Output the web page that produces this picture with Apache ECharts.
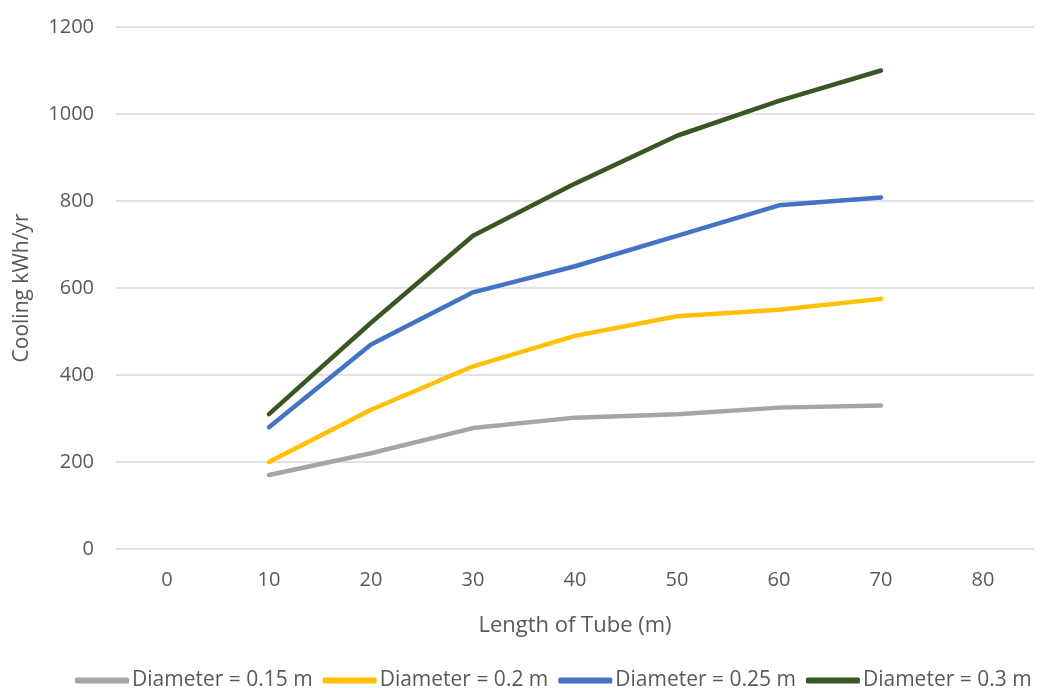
<!DOCTYPE html>
<html>
<head>
<meta charset="utf-8">
<script src="https://cdn.jsdelivr.net/npm/echarts@6/dist/echarts.min.js"></script>
<style>
  html, body { margin: 0; padding: 0; background: #fff; }
  #chart { width: 1040px; height: 688px; }
</style>
</head>
<body>
<div id="chart"></div>
<script>
// Tube length categories (m)
const lengths = ['0', '10', '20', '30', '40', '50', '60', '70', '80'];

// Cooling (kWh/yr) per tube diameter; no data at 0 m and 80 m
const d015 = [null, 170, 220, 278, 302, 310, 325, 330, null];
const d020 = [null, 200, 320, 420, 490, 535, 550, 575, null];
const d025 = [null, 280, 470, 590, 650, 720, 790, 808, null];
const d030 = [null, 310, 520, 720, 840, 950, 1030, 1100, null];

const seriesNames = ['Diameter = 0.15 m', 'Diameter = 0.2 m', 'Diameter = 0.25 m', 'Diameter = 0.3 m'];
const seriesColors = ['#A5A5A5', '#FFC000', '#4472C4', '#385723'];
const seriesData = [d015, d020, d025, d030];

const font = '"Open Sans", "Noto Sans", sans-serif';
const textColor = '#595959';

const chart = echarts.init(document.getElementById('chart'));
chart.setOption({
  animation: false,
  backgroundColor: '#ffffff',
  grid: {
    left: 116, right: 6, top: 27, bottom: 139,
    containLabel: false, outerBoundsMode: 'none'
  },
  legend: {
    top: 665,
    left: 70,
    itemWidth: 54,
    itemHeight: 6,
    itemGap: 10,
    icon: 'roundRect',
    textStyle: { color: textColor, fontSize: 21, fontFamily: font, padding: [0, 0, 0, -2] },
    data: seriesNames
  },
  xAxis: {
    type: 'category',
    data: lengths,
    boundaryGap: true,
    name: 'Length of Tube (m)',
    nameLocation: 'middle',
    nameGap: 66,
    nameTextStyle: { color: textColor, fontSize: 22, fontFamily: font },
    axisLine: { show: false },
    axisTick: { show: false },
    axisLabel: { color: textColor, fontSize: 20, fontFamily: font, margin: 21 },
    splitLine: { show: false }
  },
  yAxis: {
    type: 'value',
    min: 0,
    max: 1200,
    interval: 200,
    name: 'Cooling kWh/yr',
    nameLocation: 'middle',
    nameGap: 83,
    nameRotate: 90,
    nameTextStyle: { color: textColor, fontSize: 21, fontFamily: font },
    axisLine: { show: false },
    axisTick: { show: false },
    axisLabel: {
      color: textColor, fontSize: 20, fontFamily: font, margin: 22,
      formatter: (v) => String(v)
    },
    splitLine: { lineStyle: { color: '#D9D9D9', width: 1.5 } }
  },
  series: seriesNames.map((name, i) => ({
    name: name,
    type: 'line',
    data: seriesData[i],
    symbol: 'none',
    smooth: false,
    connectNulls: false,
    color: seriesColors[i],
    lineStyle: { color: seriesColors[i], width: 4.5, cap: 'round', join: 'round' },
    itemStyle: { color: seriesColors[i] }
  }))
});
</script>
</body>
</html>
